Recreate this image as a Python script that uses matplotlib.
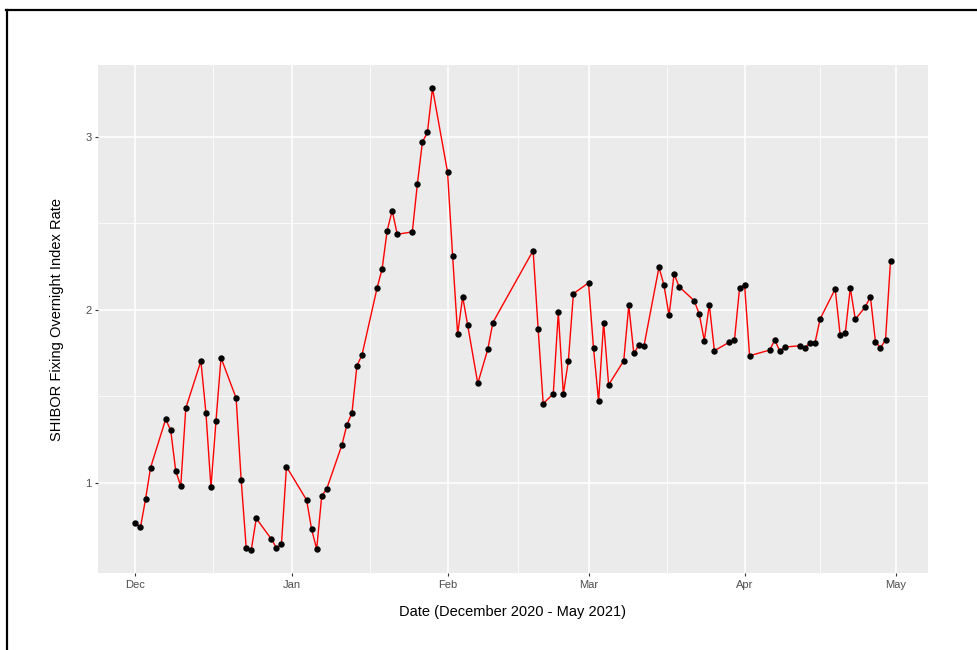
import pandas as pd
import numpy as np
import matplotlib
matplotlib.use('Agg')
import matplotlib.pyplot as plt
import matplotlib.dates as mdates
from matplotlib.lines import Line2D

#%% data (SHIBOR overnight, Dec 2020 - Apr 2021)
dates = ['2020-12-01', '2020-12-02', '2020-12-03', '2020-12-04',
         '2020-12-07', '2020-12-08', '2020-12-09', '2020-12-10', '2020-12-11',
         '2020-12-14', '2020-12-15', '2020-12-16', '2020-12-17', '2020-12-18',
         '2020-12-21', '2020-12-22', '2020-12-23', '2020-12-24', '2020-12-25',
         '2020-12-28', '2020-12-29', '2020-12-30', '2020-12-31',
         '2021-01-04', '2021-01-05', '2021-01-06', '2021-01-07', '2021-01-08',
         '2021-01-11', '2021-01-12', '2021-01-13', '2021-01-14', '2021-01-15',
         '2021-01-18', '2021-01-19', '2021-01-20', '2021-01-21', '2021-01-22',
         '2021-01-25', '2021-01-26', '2021-01-27', '2021-01-28', '2021-01-29',
         '2021-02-01', '2021-02-02', '2021-02-03', '2021-02-04', '2021-02-05',
         '2021-02-07', '2021-02-09', '2021-02-10',
         '2021-02-18', '2021-02-19', '2021-02-20',
         '2021-02-22', '2021-02-23', '2021-02-24', '2021-02-25', '2021-02-26',
         '2021-03-01', '2021-03-02', '2021-03-03', '2021-03-04', '2021-03-05',
         '2021-03-08', '2021-03-09', '2021-03-10', '2021-03-11', '2021-03-12',
         '2021-03-15', '2021-03-16', '2021-03-17', '2021-03-18', '2021-03-19',
         '2021-03-22', '2021-03-23', '2021-03-24', '2021-03-25', '2021-03-26',
         '2021-03-29', '2021-03-30', '2021-03-31', '2021-04-01', '2021-04-02',
         '2021-04-06', '2021-04-07', '2021-04-08', '2021-04-09',
         '2021-04-12', '2021-04-13', '2021-04-14', '2021-04-15', '2021-04-16',
         '2021-04-19', '2021-04-20', '2021-04-21', '2021-04-22', '2021-04-23',
         '2021-04-25', '2021-04-26', '2021-04-27', '2021-04-28', '2021-04-29',
         '2021-04-30']

rates = [0.765, 0.743, 0.904, 1.087,
         1.367, 1.303, 1.068, 0.981, 1.431,
         1.703, 1.404, 0.973, 1.357, 1.722,
         1.489, 1.016, 0.624, 0.610, 0.794,
         0.674, 0.624, 0.645, 1.093,
         0.900, 0.730, 0.616, 0.923, 0.965,
         1.217, 1.334, 1.402, 1.676, 1.738,
         2.126, 2.236, 2.457, 2.573, 2.436,
         2.450, 2.726, 2.969, 3.025, 3.281,
         2.795, 2.313, 1.859, 2.075, 1.910,
         1.574, 1.772, 1.926,
         2.342, 1.886, 1.457,
         1.514, 1.984, 1.514, 1.705, 2.093,
         2.155, 1.776, 1.471, 1.926, 1.566,
         1.705, 2.025, 1.747, 1.796, 1.788,
         2.245, 2.141, 1.967, 2.207, 2.133,
         2.052, 1.975, 1.822, 2.029, 1.763,
         1.813, 1.825, 2.123, 2.145, 1.734,
         1.767, 1.825, 1.761, 1.784,
         1.792, 1.780, 1.809, 1.809, 1.946,
         2.120, 1.853, 1.863, 2.126, 1.944,
         2.017, 2.075, 1.815, 1.780, 1.825,
         2.284]

month_ticks = ['2020-12-01', '2021-01-01', '2021-02-01', '2021-03-01',
               '2021-04-01', '2021-05-01']
y_ticks = [1, 2, 3]

#%%
df = pd.DataFrame({'date': pd.to_datetime(dates), 'rate': rates})

plt.rcParams['font.family'] = ['Liberation Sans', 'DejaVu Sans']

fig = plt.figure(figsize=(9.78, 6.5), dpi=100)
W, H = 978, 650
ax = fig.add_axes([97.7 / W, 1 - 573.3 / H, (928.3 - 97.7) / W, (573.3 - 65) / H])
ax.set_facecolor('#EBEBEB')

ax.plot(df['date'], df['rate'], color='red', lw=1.0, zorder=3)
ax.plot(df['date'], df['rate'], 'o', color='black', ms=4.6, mew=0, zorder=4)

# ggplot-like 5% expansion
xnum = mdates.date2num(df['date'])
xr = xnum.max() - xnum.min()
ax.set_xlim(xnum.min() - 0.05 * xr, xnum.max() + 0.05 * xr)
yr = df['rate'].max() - df['rate'].min()
ax.set_ylim(df['rate'].min() - 0.05 * yr, df['rate'].max() + 0.05 * yr)

major_x = mdates.date2num(pd.to_datetime(month_ticks))
minor_x = (major_x[:-1] + major_x[1:]) / 2
ax.set_xticks(major_x)
ax.set_xticklabels([d.strftime('%b') for d in pd.to_datetime(month_ticks)])
ax.set_xticks(minor_x, minor=True)
ax.set_yticks(y_ticks)
ax.set_yticklabels([str(v) for v in y_ticks])
ax.set_yticks([1.5, 2.5], minor=True)

ax.grid(which='major', color='white', lw=1.1)
ax.grid(which='minor', color='white', lw=0.55)
ax.set_axisbelow(True)
for s in ax.spines.values():
    s.set_visible(False)

ax.tick_params(which='major', length=2.5, width=0.8, color='#333333',
               labelcolor='#4D4D4D', labelsize=8, pad=2)
ax.tick_params(which='minor', length=0)

ax.set_xlabel('Date (December 2020 - May 2021)', fontsize=10.5, color='black')
ax.set_ylabel('SHIBOR Fixing Overnight Index Rate', fontsize=10.5, color='black')
ax.xaxis.set_label_coords(0.5, -(612 - 573.3) / (573.3 - 65))
ax.xaxis.label.set_verticalalignment('center')
ax.yaxis.set_label_coords(-(97.7 - 57.5) / (928.3 - 97.7), 0.5)
ax.yaxis.label.set_verticalalignment('center')

# outer frame (only top and left edges are visible in the original)
fig.add_artist(Line2D([6 / W, 1], [1 - 10 / H, 1 - 10 / H], color='black', lw=1.6,
                      transform=fig.transFigure))
fig.add_artist(Line2D([7 / W, 7 / W], [0, 1 - 10 / H], color='black', lw=1.6,
                      transform=fig.transFigure))

fig.savefig('out.png', dpi=100, facecolor='white')
